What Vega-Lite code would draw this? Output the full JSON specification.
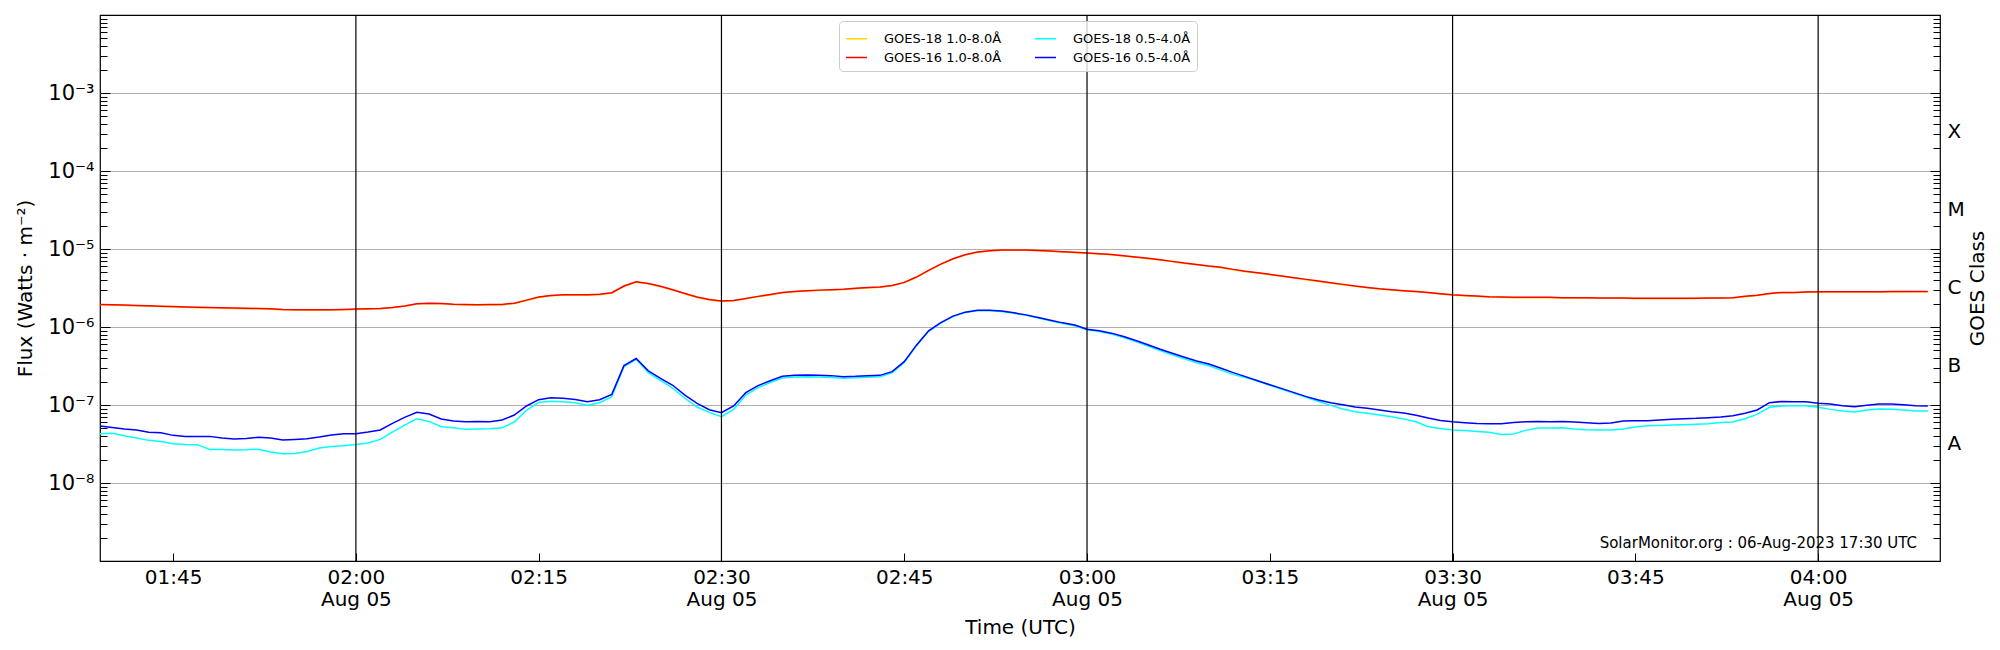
{
  "$schema": "https://vega.github.io/schema/vega-lite/v6.json",
  "width": 1840,
  "height": 546,
  "autosize": {"type": "none"},
  "padding": {"left": 100, "top": 15, "right": 60, "bottom": 89},
  "config": {
    "font": "DejaVu Sans",
    "view": {"stroke": "#000000", "strokeWidth": 1.2},
    "axis": {
      "domain": false,
      "labelColor": "#000000",
      "tickColor": "#000000",
      "tickWidth": 1,
      "titleColor": "#000000",
      "titleFontWeight": "normal",
      "labelFontSize": 20,
      "titleFontSize": 20,
      "labelFont": "DejaVu Sans",
      "titleFont": "DejaVu Sans"
    }
  },
  "layer": [
    {
      "data": {
        "format": {"parse": {"t": "utc:'%H:%M'"}},
        "values": [
          {"t":"01:39","s":"a","f":1.93e-6},{"t":"01:40","s":"a","f":1.91e-6},{"t":"01:41","s":"a","f":1.89e-6},{"t":"01:42","s":"a","f":1.87e-6},{"t":"01:43","s":"a","f":1.85e-6},{"t":"01:44","s":"a","f":1.83e-6},{"t":"01:45","s":"a","f":1.81e-6},{"t":"01:46","s":"a","f":1.79e-6},{"t":"01:47","s":"a","f":1.77e-6},{"t":"01:48","s":"a","f":1.76e-6},{"t":"01:49","s":"a","f":1.74e-6},{"t":"01:50","s":"a","f":1.73e-6},{"t":"01:51","s":"a","f":1.72e-6},{"t":"01:52","s":"a","f":1.71e-6},{"t":"01:53","s":"a","f":1.69e-6},{"t":"01:54","s":"a","f":1.66e-6},{"t":"01:55","s":"a","f":1.65e-6},{"t":"01:56","s":"a","f":1.64e-6},{"t":"01:57","s":"a","f":1.64e-6},{"t":"01:58","s":"a","f":1.65e-6},{"t":"01:59","s":"a","f":1.66e-6},
          {"t":"02:00","s":"a","f":1.68e-6},{"t":"02:01","s":"a","f":1.69e-6},{"t":"02:02","s":"a","f":1.71e-6},{"t":"02:03","s":"a","f":1.76e-6},{"t":"02:04","s":"a","f":1.84e-6},{"t":"02:05","s":"a","f":1.97e-6},{"t":"02:06","s":"a","f":2.00e-6},{"t":"02:07","s":"a","f":1.98e-6},{"t":"02:08","s":"a","f":1.94e-6},{"t":"02:09","s":"a","f":1.92e-6},{"t":"02:10","s":"a","f":1.91e-6},{"t":"02:11","s":"a","f":1.92e-6},{"t":"02:12","s":"a","f":1.93e-6},{"t":"02:13","s":"a","f":2.00e-6},{"t":"02:14","s":"a","f":2.19e-6},{"t":"02:15","s":"a","f":2.39e-6},{"t":"02:16","s":"a","f":2.51e-6},{"t":"02:17","s":"a","f":2.56e-6},{"t":"02:18","s":"a","f":2.57e-6},{"t":"02:19","s":"a","f":2.56e-6},{"t":"02:20","s":"a","f":2.60e-6},{"t":"02:21","s":"a","f":2.72e-6},{"t":"02:22","s":"a","f":3.31e-6},{"t":"02:23","s":"a","f":3.76e-6},{"t":"02:24","s":"a","f":3.58e-6},{"t":"02:25","s":"a","f":3.28e-6},{"t":"02:26","s":"a","f":2.98e-6},{"t":"02:27","s":"a","f":2.66e-6},{"t":"02:28","s":"a","f":2.39e-6},{"t":"02:29","s":"a","f":2.22e-6},
          {"t":"02:30","s":"a","f":2.13e-6},{"t":"02:31","s":"a","f":2.17e-6},{"t":"02:32","s":"a","f":2.30e-6},{"t":"02:33","s":"a","f":2.44e-6},{"t":"02:34","s":"a","f":2.58e-6},{"t":"02:35","s":"a","f":2.74e-6},{"t":"02:36","s":"a","f":2.83e-6},{"t":"02:37","s":"a","f":2.89e-6},{"t":"02:38","s":"a","f":2.94e-6},{"t":"02:39","s":"a","f":2.98e-6},{"t":"02:40","s":"a","f":3.02e-6},{"t":"02:41","s":"a","f":3.10e-6},{"t":"02:42","s":"a","f":3.17e-6},{"t":"02:43","s":"a","f":3.23e-6},{"t":"02:44","s":"a","f":3.38e-6},{"t":"02:45","s":"a","f":3.69e-6},{"t":"02:46","s":"a","f":4.33e-6},{"t":"02:47","s":"a","f":5.27e-6},{"t":"02:48","s":"a","f":6.35e-6},{"t":"02:49","s":"a","f":7.44e-6},{"t":"02:50","s":"a","f":8.37e-6},{"t":"02:51","s":"a","f":9.05e-6},{"t":"02:52","s":"a","f":9.43e-6},{"t":"02:53","s":"a","f":9.61e-6},{"t":"02:54","s":"a","f":9.63e-6},{"t":"02:55","s":"a","f":9.61e-6},{"t":"02:56","s":"a","f":9.51e-6},{"t":"02:57","s":"a","f":9.33e-6},{"t":"02:58","s":"a","f":9.15e-6},{"t":"02:59","s":"a","f":8.97e-6},
          {"t":"03:00","s":"a","f":8.79e-6},{"t":"03:01","s":"a","f":8.62e-6},{"t":"03:02","s":"a","f":8.44e-6},{"t":"03:03","s":"a","f":8.13e-6},{"t":"03:04","s":"a","f":7.81e-6},{"t":"03:05","s":"a","f":7.51e-6},{"t":"03:06","s":"a","f":7.22e-6},{"t":"03:07","s":"a","f":6.87e-6},{"t":"03:08","s":"a","f":6.54e-6},{"t":"03:09","s":"a","f":6.29e-6},{"t":"03:10","s":"a","f":5.99e-6},{"t":"03:11","s":"a","f":5.76e-6},{"t":"03:12","s":"a","f":5.43e-6},{"t":"03:13","s":"a","f":5.12e-6},{"t":"03:14","s":"a","f":4.92e-6},{"t":"03:15","s":"a","f":4.68e-6},{"t":"03:16","s":"a","f":4.46e-6},{"t":"03:17","s":"a","f":4.25e-6},{"t":"03:18","s":"a","f":4.04e-6},{"t":"03:19","s":"a","f":3.84e-6},{"t":"03:20","s":"a","f":3.66e-6},{"t":"03:21","s":"a","f":3.48e-6},{"t":"03:22","s":"a","f":3.32e-6},{"t":"03:23","s":"a","f":3.19e-6},{"t":"03:24","s":"a","f":3.06e-6},{"t":"03:25","s":"a","f":2.97e-6},{"t":"03:26","s":"a","f":2.89e-6},{"t":"03:27","s":"a","f":2.83e-6},{"t":"03:28","s":"a","f":2.74e-6},{"t":"03:29","s":"a","f":2.64e-6},
          {"t":"03:30","s":"a","f":2.56e-6},{"t":"03:31","s":"a","f":2.51e-6},{"t":"03:32","s":"a","f":2.46e-6},{"t":"03:33","s":"a","f":2.42e-6},{"t":"03:34","s":"a","f":2.40e-6},{"t":"03:35","s":"a","f":2.38e-6},{"t":"03:36","s":"a","f":2.38e-6},{"t":"03:37","s":"a","f":2.38e-6},{"t":"03:38","s":"a","f":2.38e-6},{"t":"03:39","s":"a","f":2.36e-6},{"t":"03:40","s":"a","f":2.36e-6},{"t":"03:41","s":"a","f":2.35e-6},{"t":"03:42","s":"a","f":2.34e-6},{"t":"03:43","s":"a","f":2.33e-6},{"t":"03:44","s":"a","f":2.33e-6},{"t":"03:45","s":"a","f":2.31e-6},{"t":"03:46","s":"a","f":2.31e-6},{"t":"03:47","s":"a","f":2.31e-6},{"t":"03:48","s":"a","f":2.31e-6},{"t":"03:49","s":"a","f":2.31e-6},{"t":"03:50","s":"a","f":2.32e-6},{"t":"03:51","s":"a","f":2.33e-6},{"t":"03:52","s":"a","f":2.34e-6},{"t":"03:53","s":"a","f":2.36e-6},{"t":"03:54","s":"a","f":2.44e-6},{"t":"03:55","s":"a","f":2.53e-6},{"t":"03:56","s":"a","f":2.66e-6},{"t":"03:57","s":"a","f":2.74e-6},{"t":"03:58","s":"a","f":2.74e-6},{"t":"03:59","s":"a","f":2.78e-6},
          {"t":"04:00","s":"a","f":2.80e-6},{"t":"04:01","s":"a","f":2.80e-6},{"t":"04:02","s":"a","f":2.80e-6},{"t":"04:03","s":"a","f":2.80e-6},{"t":"04:04","s":"a","f":2.81e-6},{"t":"04:05","s":"a","f":2.81e-6},{"t":"04:06","s":"a","f":2.82e-6},{"t":"04:07","s":"a","f":2.82e-6},{"t":"04:08","s":"a","f":2.83e-6},{"t":"04:09","s":"a","f":2.83e-6},

          {"t":"01:39","s":"b","f":1.95e-6},{"t":"01:40","s":"b","f":1.93e-6},{"t":"01:41","s":"b","f":1.91e-6},{"t":"01:42","s":"b","f":1.89e-6},{"t":"01:43","s":"b","f":1.87e-6},{"t":"01:44","s":"b","f":1.85e-6},{"t":"01:45","s":"b","f":1.83e-6},{"t":"01:46","s":"b","f":1.81e-6},{"t":"01:47","s":"b","f":1.79e-6},{"t":"01:48","s":"b","f":1.78e-6},{"t":"01:49","s":"b","f":1.76e-6},{"t":"01:50","s":"b","f":1.75e-6},{"t":"01:51","s":"b","f":1.74e-6},{"t":"01:52","s":"b","f":1.73e-6},{"t":"01:53","s":"b","f":1.71e-6},{"t":"01:54","s":"b","f":1.68e-6},{"t":"01:55","s":"b","f":1.67e-6},{"t":"01:56","s":"b","f":1.66e-6},{"t":"01:57","s":"b","f":1.66e-6},{"t":"01:58","s":"b","f":1.67e-6},{"t":"01:59","s":"b","f":1.68e-6},
          {"t":"02:00","s":"b","f":1.70e-6},{"t":"02:01","s":"b","f":1.71e-6},{"t":"02:02","s":"b","f":1.73e-6},{"t":"02:03","s":"b","f":1.78e-6},{"t":"02:04","s":"b","f":1.86e-6},{"t":"02:05","s":"b","f":1.99e-6},{"t":"02:06","s":"b","f":2.02e-6},{"t":"02:07","s":"b","f":2.00e-6},{"t":"02:08","s":"b","f":1.96e-6},{"t":"02:09","s":"b","f":1.94e-6},{"t":"02:10","s":"b","f":1.93e-6},{"t":"02:11","s":"b","f":1.94e-6},{"t":"02:12","s":"b","f":1.95e-6},{"t":"02:13","s":"b","f":2.02e-6},{"t":"02:14","s":"b","f":2.21e-6},{"t":"02:15","s":"b","f":2.42e-6},{"t":"02:16","s":"b","f":2.54e-6},{"t":"02:17","s":"b","f":2.59e-6},{"t":"02:18","s":"b","f":2.60e-6},{"t":"02:19","s":"b","f":2.59e-6},{"t":"02:20","s":"b","f":2.63e-6},{"t":"02:21","s":"b","f":2.75e-6},{"t":"02:22","s":"b","f":3.35e-6},{"t":"02:23","s":"b","f":3.80e-6},{"t":"02:24","s":"b","f":3.62e-6},{"t":"02:25","s":"b","f":3.32e-6},{"t":"02:26","s":"b","f":3.01e-6},{"t":"02:27","s":"b","f":2.69e-6},{"t":"02:28","s":"b","f":2.42e-6},{"t":"02:29","s":"b","f":2.25e-6},
          {"t":"02:30","s":"b","f":2.15e-6},{"t":"02:31","s":"b","f":2.19e-6},{"t":"02:32","s":"b","f":2.32e-6},{"t":"02:33","s":"b","f":2.47e-6},{"t":"02:34","s":"b","f":2.61e-6},{"t":"02:35","s":"b","f":2.77e-6},{"t":"02:36","s":"b","f":2.86e-6},{"t":"02:37","s":"b","f":2.92e-6},{"t":"02:38","s":"b","f":2.97e-6},{"t":"02:39","s":"b","f":3.01e-6},{"t":"02:40","s":"b","f":3.05e-6},{"t":"02:41","s":"b","f":3.13e-6},{"t":"02:42","s":"b","f":3.20e-6},{"t":"02:43","s":"b","f":3.26e-6},{"t":"02:44","s":"b","f":3.41e-6},{"t":"02:45","s":"b","f":3.73e-6},{"t":"02:46","s":"b","f":4.37e-6},{"t":"02:47","s":"b","f":5.32e-6},{"t":"02:48","s":"b","f":6.41e-6},{"t":"02:49","s":"b","f":7.51e-6},{"t":"02:50","s":"b","f":8.45e-6},{"t":"02:51","s":"b","f":9.14e-6},{"t":"02:52","s":"b","f":9.52e-6},{"t":"02:53","s":"b","f":9.70e-6},{"t":"02:54","s":"b","f":9.72e-6},{"t":"02:55","s":"b","f":9.70e-6},{"t":"02:56","s":"b","f":9.60e-6},{"t":"02:57","s":"b","f":9.42e-6},{"t":"02:58","s":"b","f":9.24e-6},{"t":"02:59","s":"b","f":9.06e-6},
          {"t":"03:00","s":"b","f":8.88e-6},{"t":"03:01","s":"b","f":8.71e-6},{"t":"03:02","s":"b","f":8.52e-6},{"t":"03:03","s":"b","f":8.21e-6},{"t":"03:04","s":"b","f":7.89e-6},{"t":"03:05","s":"b","f":7.59e-6},{"t":"03:06","s":"b","f":7.29e-6},{"t":"03:07","s":"b","f":6.94e-6},{"t":"03:08","s":"b","f":6.61e-6},{"t":"03:09","s":"b","f":6.35e-6},{"t":"03:10","s":"b","f":6.05e-6},{"t":"03:11","s":"b","f":5.82e-6},{"t":"03:12","s":"b","f":5.48e-6},{"t":"03:13","s":"b","f":5.17e-6},{"t":"03:14","s":"b","f":4.97e-6},{"t":"03:15","s":"b","f":4.73e-6},{"t":"03:16","s":"b","f":4.50e-6},{"t":"03:17","s":"b","f":4.29e-6},{"t":"03:18","s":"b","f":4.08e-6},{"t":"03:19","s":"b","f":3.88e-6},{"t":"03:20","s":"b","f":3.70e-6},{"t":"03:21","s":"b","f":3.52e-6},{"t":"03:22","s":"b","f":3.35e-6},{"t":"03:23","s":"b","f":3.22e-6},{"t":"03:24","s":"b","f":3.09e-6},{"t":"03:25","s":"b","f":3.00e-6},{"t":"03:26","s":"b","f":2.92e-6},{"t":"03:27","s":"b","f":2.86e-6},{"t":"03:28","s":"b","f":2.77e-6},{"t":"03:29","s":"b","f":2.67e-6},
          {"t":"03:30","s":"b","f":2.59e-6},{"t":"03:31","s":"b","f":2.54e-6},{"t":"03:32","s":"b","f":2.49e-6},{"t":"03:33","s":"b","f":2.44e-6},{"t":"03:34","s":"b","f":2.42e-6},{"t":"03:35","s":"b","f":2.40e-6},{"t":"03:36","s":"b","f":2.40e-6},{"t":"03:37","s":"b","f":2.40e-6},{"t":"03:38","s":"b","f":2.40e-6},{"t":"03:39","s":"b","f":2.38e-6},{"t":"03:40","s":"b","f":2.38e-6},{"t":"03:41","s":"b","f":2.37e-6},{"t":"03:42","s":"b","f":2.36e-6},{"t":"03:43","s":"b","f":2.35e-6},{"t":"03:44","s":"b","f":2.35e-6},{"t":"03:45","s":"b","f":2.33e-6},{"t":"03:46","s":"b","f":2.33e-6},{"t":"03:47","s":"b","f":2.33e-6},{"t":"03:48","s":"b","f":2.33e-6},{"t":"03:49","s":"b","f":2.33e-6},{"t":"03:50","s":"b","f":2.34e-6},{"t":"03:51","s":"b","f":2.35e-6},{"t":"03:52","s":"b","f":2.36e-6},{"t":"03:53","s":"b","f":2.38e-6},{"t":"03:54","s":"b","f":2.47e-6},{"t":"03:55","s":"b","f":2.56e-6},{"t":"03:56","s":"b","f":2.69e-6},{"t":"03:57","s":"b","f":2.77e-6},{"t":"03:58","s":"b","f":2.77e-6},{"t":"03:59","s":"b","f":2.81e-6},
          {"t":"04:00","s":"b","f":2.83e-6},{"t":"04:01","s":"b","f":2.83e-6},{"t":"04:02","s":"b","f":2.83e-6},{"t":"04:03","s":"b","f":2.83e-6},{"t":"04:04","s":"b","f":2.84e-6},{"t":"04:05","s":"b","f":2.84e-6},{"t":"04:06","s":"b","f":2.85e-6},{"t":"04:07","s":"b","f":2.85e-6},{"t":"04:08","s":"b","f":2.86e-6},{"t":"04:09","s":"b","f":2.86e-6},

          {"t":"01:39","s":"c","f":4.29e-8},{"t":"01:40","s":"c","f":4.33e-8},{"t":"01:41","s":"c","f":4.04e-8},{"t":"01:42","s":"c","f":3.77e-8},{"t":"01:43","s":"c","f":3.52e-8},{"t":"01:44","s":"c","f":3.41e-8},{"t":"01:45","s":"c","f":3.18e-8},{"t":"01:46","s":"c","f":3.12e-8},{"t":"01:47","s":"c","f":3.10e-8},{"t":"01:48","s":"c","f":2.69e-8},{"t":"01:49","s":"c","f":2.69e-8},{"t":"01:50","s":"c","f":2.64e-8},{"t":"01:51","s":"c","f":2.66e-8},{"t":"01:52","s":"c","f":2.71e-8},{"t":"01:53","s":"c","f":2.49e-8},{"t":"01:54","s":"c","f":2.37e-8},{"t":"01:55","s":"c","f":2.39e-8},{"t":"01:56","s":"c","f":2.54e-8},{"t":"01:57","s":"c","f":2.81e-8},{"t":"01:58","s":"c","f":2.94e-8},{"t":"01:59","s":"c","f":3.01e-8},
          {"t":"02:00","s":"c","f":3.12e-8},{"t":"02:01","s":"c","f":3.25e-8},{"t":"02:02","s":"c","f":3.62e-8},{"t":"02:03","s":"c","f":4.50e-8},{"t":"02:04","s":"c","f":5.53e-8},{"t":"02:05","s":"c","f":6.67e-8},{"t":"02:06","s":"c","f":6.16e-8},{"t":"02:07","s":"c","f":5.27e-8},{"t":"02:08","s":"c","f":5.12e-8},{"t":"02:09","s":"c","f":4.87e-8},{"t":"02:10","s":"c","f":4.92e-8},{"t":"02:11","s":"c","f":4.97e-8},{"t":"02:12","s":"c","f":5.10e-8},{"t":"02:13","s":"c","f":6.05e-8},{"t":"02:14","s":"c","f":8.55e-8},{"t":"02:15","s":"c","f":1.08e-7},{"t":"02:16","s":"c","f":1.12e-7},{"t":"02:17","s":"c","f":1.10e-7},{"t":"02:18","s":"c","f":1.07e-7},{"t":"02:19","s":"c","f":9.90e-8},{"t":"02:20","s":"c","f":1.07e-7},{"t":"02:21","s":"c","f":1.28e-7},{"t":"02:22","s":"c","f":3.11e-7},{"t":"02:23","s":"c","f":3.86e-7},{"t":"02:24","s":"c","f":2.60e-7},{"t":"02:25","s":"c","f":2.07e-7},{"t":"02:26","s":"c","f":1.64e-7},{"t":"02:27","s":"c","f":1.22e-7},{"t":"02:28","s":"c","f":9.42e-8},{"t":"02:29","s":"c","f":8.05e-8},
          {"t":"02:30","s":"c","f":7.08e-8},{"t":"02:31","s":"c","f":8.79e-8},{"t":"02:32","s":"c","f":1.34e-7},{"t":"02:33","s":"c","f":1.67e-7},{"t":"02:34","s":"c","f":1.94e-7},{"t":"02:35","s":"c","f":2.22e-7},{"t":"02:36","s":"c","f":2.29e-7},{"t":"02:37","s":"c","f":2.31e-7},{"t":"02:38","s":"c","f":2.29e-7},{"t":"02:39","s":"c","f":2.25e-7},{"t":"02:40","s":"c","f":2.20e-7},{"t":"02:41","s":"c","f":2.24e-7},{"t":"02:42","s":"c","f":2.27e-7},{"t":"02:43","s":"c","f":2.30e-7},{"t":"02:44","s":"c","f":2.58e-7},{"t":"02:45","s":"c","f":3.52e-7},{"t":"02:46","s":"c","f":5.74e-7},{"t":"02:47","s":"c","f":8.80e-7},{"t":"02:48","s":"c","f":1.12e-6},{"t":"02:49","s":"c","f":1.36e-6},{"t":"02:50","s":"c","f":1.53e-6},{"t":"02:51","s":"c","f":1.62e-6},{"t":"02:52","s":"c","f":1.62e-6},{"t":"02:53","s":"c","f":1.58e-6},{"t":"02:54","s":"c","f":1.50e-6},{"t":"02:55","s":"c","f":1.41e-6},{"t":"02:56","s":"c","f":1.30e-6},{"t":"02:57","s":"c","f":1.20e-6},{"t":"02:58","s":"c","f":1.11e-6},{"t":"02:59","s":"c","f":1.04e-6},
          {"t":"03:00","s":"c","f":9.20e-7},{"t":"03:01","s":"c","f":8.75e-7},{"t":"03:02","s":"c","f":8.15e-7},{"t":"03:03","s":"c","f":7.35e-7},{"t":"03:04","s":"c","f":6.50e-7},{"t":"03:05","s":"c","f":5.70e-7},{"t":"03:06","s":"c","f":4.98e-7},{"t":"03:07","s":"c","f":4.40e-7},{"t":"03:08","s":"c","f":3.90e-7},{"t":"03:09","s":"c","f":3.48e-7},{"t":"03:10","s":"c","f":3.18e-7},{"t":"03:11","s":"c","f":2.80e-7},{"t":"03:12","s":"c","f":2.45e-7},{"t":"03:13","s":"c","f":2.25e-7},{"t":"03:14","s":"c","f":2.03e-7},{"t":"03:15","s":"c","f":1.79e-7},{"t":"03:16","s":"c","f":1.59e-7},{"t":"03:17","s":"c","f":1.41e-7},{"t":"03:18","s":"c","f":1.26e-7},{"t":"03:19","s":"c","f":1.11e-7},{"t":"03:20","s":"c","f":9.90e-8},{"t":"03:21","s":"c","f":8.89e-8},{"t":"03:22","s":"c","f":8.21e-8},{"t":"03:23","s":"c","f":7.82e-8},{"t":"03:24","s":"c","f":7.44e-8},{"t":"03:25","s":"c","f":7.08e-8},{"t":"03:26","s":"c","f":6.61e-8},{"t":"03:27","s":"c","f":6.10e-8},{"t":"03:28","s":"c","f":5.27e-8},{"t":"03:29","s":"c","f":5.01e-8},
          {"t":"03:30","s":"c","f":4.78e-8},{"t":"03:31","s":"c","f":4.70e-8},{"t":"03:32","s":"c","f":4.59e-8},{"t":"03:33","s":"c","f":4.46e-8},{"t":"03:34","s":"c","f":4.20e-8},{"t":"03:35","s":"c","f":4.24e-8},{"t":"03:36","s":"c","f":4.73e-8},{"t":"03:37","s":"c","f":5.06e-8},{"t":"03:38","s":"c","f":5.06e-8},{"t":"03:39","s":"c","f":5.12e-8},{"t":"03:40","s":"c","f":4.92e-8},{"t":"03:41","s":"c","f":4.83e-8},{"t":"03:42","s":"c","f":4.78e-8},{"t":"03:43","s":"c","f":4.78e-8},{"t":"03:44","s":"c","f":4.92e-8},{"t":"03:45","s":"c","f":5.21e-8},{"t":"03:46","s":"c","f":5.42e-8},{"t":"03:47","s":"c","f":5.47e-8},{"t":"03:48","s":"c","f":5.53e-8},{"t":"03:49","s":"c","f":5.59e-8},{"t":"03:50","s":"c","f":5.65e-8},{"t":"03:51","s":"c","f":5.75e-8},{"t":"03:52","s":"c","f":5.98e-8},{"t":"03:53","s":"c","f":6.04e-8},{"t":"03:54","s":"c","f":6.67e-8},{"t":"03:55","s":"c","f":7.59e-8},{"t":"03:56","s":"c","f":9.33e-8},{"t":"03:57","s":"c","f":9.70e-8},{"t":"03:58","s":"c","f":9.80e-8},{"t":"03:59","s":"c","f":9.80e-8},
          {"t":"04:00","s":"c","f":9.33e-8},{"t":"04:01","s":"c","f":8.79e-8},{"t":"04:02","s":"c","f":8.38e-8},{"t":"04:03","s":"c","f":8.13e-8},{"t":"04:04","s":"c","f":8.63e-8},{"t":"04:05","s":"c","f":8.89e-8},{"t":"04:06","s":"c","f":8.79e-8},{"t":"04:07","s":"c","f":8.63e-8},{"t":"04:08","s":"c","f":8.38e-8},{"t":"04:09","s":"c","f":8.38e-8},

          {"t":"01:39","s":"d","f":5.37e-8},{"t":"01:40","s":"d","f":5.16e-8},{"t":"01:41","s":"d","f":4.92e-8},{"t":"01:42","s":"d","f":4.78e-8},{"t":"01:43","s":"d","f":4.46e-8},{"t":"01:44","s":"d","f":4.41e-8},{"t":"01:45","s":"d","f":4.08e-8},{"t":"01:46","s":"d","f":3.96e-8},{"t":"01:47","s":"d","f":3.96e-8},{"t":"01:48","s":"d","f":3.96e-8},{"t":"01:49","s":"d","f":3.77e-8},{"t":"01:50","s":"d","f":3.66e-8},{"t":"01:51","s":"d","f":3.73e-8},{"t":"01:52","s":"d","f":3.85e-8},{"t":"01:53","s":"d","f":3.77e-8},{"t":"01:54","s":"d","f":3.55e-8},{"t":"01:55","s":"d","f":3.62e-8},{"t":"01:56","s":"d","f":3.70e-8},{"t":"01:57","s":"d","f":3.88e-8},{"t":"01:58","s":"d","f":4.12e-8},{"t":"01:59","s":"d","f":4.29e-8},
          {"t":"02:00","s":"d","f":4.29e-8},{"t":"02:01","s":"d","f":4.50e-8},{"t":"02:02","s":"d","f":4.78e-8},{"t":"02:03","s":"d","f":5.81e-8},{"t":"02:04","s":"d","f":6.95e-8},{"t":"02:05","s":"d","f":8.05e-8},{"t":"02:06","s":"d","f":7.66e-8},{"t":"02:07","s":"d","f":6.61e-8},{"t":"02:08","s":"d","f":6.22e-8},{"t":"02:09","s":"d","f":6.10e-8},{"t":"02:10","s":"d","f":6.16e-8},{"t":"02:11","s":"d","f":6.10e-8},{"t":"02:12","s":"d","f":6.41e-8},{"t":"02:13","s":"d","f":7.44e-8},{"t":"02:14","s":"d","f":9.71e-8},{"t":"02:15","s":"d","f":1.17e-7},{"t":"02:16","s":"d","f":1.24e-7},{"t":"02:17","s":"d","f":1.22e-7},{"t":"02:18","s":"d","f":1.18e-7},{"t":"02:19","s":"d","f":1.10e-7},{"t":"02:20","s":"d","f":1.17e-7},{"t":"02:21","s":"d","f":1.37e-7},{"t":"02:22","s":"d","f":3.20e-7},{"t":"02:23","s":"d","f":3.94e-7},{"t":"02:24","s":"d","f":2.74e-7},{"t":"02:25","s":"d","f":2.20e-7},{"t":"02:26","s":"d","f":1.79e-7},{"t":"02:27","s":"d","f":1.34e-7},{"t":"02:28","s":"d","f":1.05e-7},{"t":"02:29","s":"d","f":8.71e-8},
          {"t":"02:30","s":"d","f":7.96e-8},{"t":"02:31","s":"d","f":9.71e-8},{"t":"02:32","s":"d","f":1.44e-7},{"t":"02:33","s":"d","f":1.77e-7},{"t":"02:34","s":"d","f":2.05e-7},{"t":"02:35","s":"d","f":2.33e-7},{"t":"02:36","s":"d","f":2.40e-7},{"t":"02:37","s":"d","f":2.42e-7},{"t":"02:38","s":"d","f":2.40e-7},{"t":"02:39","s":"d","f":2.38e-7},{"t":"02:40","s":"d","f":2.31e-7},{"t":"02:41","s":"d","f":2.33e-7},{"t":"02:42","s":"d","f":2.37e-7},{"t":"02:43","s":"d","f":2.40e-7},{"t":"02:44","s":"d","f":2.68e-7},{"t":"02:45","s":"d","f":3.60e-7},{"t":"02:46","s":"d","f":5.85e-7},{"t":"02:47","s":"d","f":8.93e-7},{"t":"02:48","s":"d","f":1.14e-6},{"t":"02:49","s":"d","f":1.38e-6},{"t":"02:50","s":"d","f":1.55e-6},{"t":"02:51","s":"d","f":1.64e-6},{"t":"02:52","s":"d","f":1.64e-6},{"t":"02:53","s":"d","f":1.60e-6},{"t":"02:54","s":"d","f":1.52e-6},{"t":"02:55","s":"d","f":1.43e-6},{"t":"02:56","s":"d","f":1.32e-6},{"t":"02:57","s":"d","f":1.22e-6},{"t":"02:58","s":"d","f":1.13e-6},{"t":"02:59","s":"d","f":1.06e-6},
          {"t":"03:00","s":"d","f":9.38e-7},{"t":"03:01","s":"d","f":8.93e-7},{"t":"03:02","s":"d","f":8.34e-7},{"t":"03:03","s":"d","f":7.55e-7},{"t":"03:04","s":"d","f":6.71e-7},{"t":"03:05","s":"d","f":5.91e-7},{"t":"03:06","s":"d","f":5.19e-7},{"t":"03:07","s":"d","f":4.61e-7},{"t":"03:08","s":"d","f":4.10e-7},{"t":"03:09","s":"d","f":3.67e-7},{"t":"03:10","s":"d","f":3.36e-7},{"t":"03:11","s":"d","f":2.96e-7},{"t":"03:12","s":"d","f":2.60e-7},{"t":"03:13","s":"d","f":2.31e-7},{"t":"03:14","s":"d","f":2.05e-7},{"t":"03:15","s":"d","f":1.82e-7},{"t":"03:16","s":"d","f":1.62e-7},{"t":"03:17","s":"d","f":1.44e-7},{"t":"03:18","s":"d","f":1.28e-7},{"t":"03:19","s":"d","f":1.16e-7},{"t":"03:20","s":"d","f":1.07e-7},{"t":"03:21","s":"d","f":1.01e-7},{"t":"03:22","s":"d","f":9.42e-8},{"t":"03:23","s":"d","f":9.06e-8},{"t":"03:24","s":"d","f":8.63e-8},{"t":"03:25","s":"d","f":8.21e-8},{"t":"03:26","s":"d","f":7.89e-8},{"t":"03:27","s":"d","f":7.40e-8},{"t":"03:28","s":"d","f":6.80e-8},{"t":"03:29","s":"d","f":6.35e-8},
          {"t":"03:30","s":"d","f":6.10e-8},{"t":"03:31","s":"d","f":5.93e-8},{"t":"03:32","s":"d","f":5.81e-8},{"t":"03:33","s":"d","f":5.75e-8},{"t":"03:34","s":"d","f":5.75e-8},{"t":"03:35","s":"d","f":5.98e-8},{"t":"03:36","s":"d","f":6.10e-8},{"t":"03:37","s":"d","f":6.16e-8},{"t":"03:38","s":"d","f":6.10e-8},{"t":"03:39","s":"d","f":6.16e-8},{"t":"03:40","s":"d","f":6.04e-8},{"t":"03:41","s":"d","f":5.93e-8},{"t":"03:42","s":"d","f":5.81e-8},{"t":"03:43","s":"d","f":5.87e-8},{"t":"03:44","s":"d","f":6.22e-8},{"t":"03:45","s":"d","f":6.29e-8},{"t":"03:46","s":"d","f":6.29e-8},{"t":"03:47","s":"d","f":6.41e-8},{"t":"03:48","s":"d","f":6.55e-8},{"t":"03:49","s":"d","f":6.67e-8},{"t":"03:50","s":"d","f":6.74e-8},{"t":"03:51","s":"d","f":6.88e-8},{"t":"03:52","s":"d","f":7.02e-8},{"t":"03:53","s":"d","f":7.30e-8},{"t":"03:54","s":"d","f":7.82e-8},{"t":"03:55","s":"d","f":8.63e-8},{"t":"03:56","s":"d","f":1.07e-7},{"t":"03:57","s":"d","f":1.11e-7},{"t":"03:58","s":"d","f":1.10e-7},{"t":"03:59","s":"d","f":1.10e-7},
          {"t":"04:00","s":"d","f":1.05e-7},{"t":"04:01","s":"d","f":1.03e-7},{"t":"04:02","s":"d","f":9.80e-8},{"t":"04:03","s":"d","f":9.52e-8},{"t":"04:04","s":"d","f":9.90e-8},{"t":"04:05","s":"d","f":1.03e-7},{"t":"04:06","s":"d","f":1.03e-7},{"t":"04:07","s":"d","f":1.01e-7},{"t":"04:08","s":"d","f":9.80e-8},{"t":"04:09","s":"d","f":9.70e-8}
        ]
      },
      "mark": {"type": "line", "strokeWidth": 1.5},
      "encoding": {
        "x": {
          "field": "t",
          "type": "temporal",
          "scale": {
            "type": "utc",
            "nice": false,
            "domain": [
              {"year": 1900, "month": 1, "date": 1, "hours": 1, "minutes": 39, "utc": true},
              {"year": 1900, "month": 1, "date": 1, "hours": 4, "minutes": 10, "utc": true}
            ]
          },
          "axis": {
            "orient": "bottom",
            "values": [
              {"year": 1900, "month": 1, "date": 1, "hours": 1, "minutes": 45, "utc": true},
              {"year": 1900, "month": 1, "date": 1, "hours": 2, "minutes": 0, "utc": true},
              {"year": 1900, "month": 1, "date": 1, "hours": 2, "minutes": 15, "utc": true},
              {"year": 1900, "month": 1, "date": 1, "hours": 2, "minutes": 30, "utc": true},
              {"year": 1900, "month": 1, "date": 1, "hours": 2, "minutes": 45, "utc": true},
              {"year": 1900, "month": 1, "date": 1, "hours": 3, "minutes": 0, "utc": true},
              {"year": 1900, "month": 1, "date": 1, "hours": 3, "minutes": 15, "utc": true},
              {"year": 1900, "month": 1, "date": 1, "hours": 3, "minutes": 30, "utc": true},
              {"year": 1900, "month": 1, "date": 1, "hours": 3, "minutes": 45, "utc": true},
              {"year": 1900, "month": 1, "date": 1, "hours": 4, "minutes": 0, "utc": true}
            ],
            "labelExpr": "utcminutes(datum.value) % 30 == 0 ? [utcFormat(datum.value, '%H:%M'), 'Aug 05'] : utcFormat(datum.value, '%H:%M')",
            "labelFlush": false,
            "labelOverlap": false,
            "labelLineHeight": 22,
            "tickSize": -8,
            "labelPadding": 14,
            "grid": false,
            "title": "Time (UTC)",
            "titlePadding": 8
          }
        },
        "y": {
          "field": "f",
          "type": "quantitative",
          "scale": {"type": "log", "domain": [1e-9, 1e-2], "nice": false},
          "axis": {
            "orient": "left",
            "values": [1e-8, 1e-7, 1e-6, 1e-5, 1e-4, 1e-3],
            "labelExpr": "'10⁻' + ['⁰','¹','²','³','⁴','⁵','⁶','⁷','⁸','⁹'][round(-log(datum.value) / LN10)]",
            "labelFontSize": 21,
            "tickSize": -10,
            "labelPadding": 16,
            "grid": true,
            "gridColor": "#b0b0b0",
            "gridWidth": 1,
            "title": "Flux (Watts · m⁻²)",
            "titlePadding": 12
          }
        },
        "color": {
          "field": "s",
          "type": "nominal",
          "scale": {"domain": ["a", "b", "c", "d"], "range": ["#FFD700", "#FF0000", "#00FFFF", "#0000FF"]},
          "legend": {
            "orient": "none",
            "legendX": 739,
            "legendY": 6,
            "columns": 2,
            "title": null,
            "symbolType": "stroke",
            "symbolSize": 441,
            "symbolStrokeWidth": 1.5,
            "labelFontSize": 13,
            "labelFont": "DejaVu Sans",
            "labelOffset": 16,
            "columnPadding": 30,
            "rowPadding": 0,
            "padding": 6,
            "fillColor": "rgba(255,255,255,0.8)",
            "strokeColor": "#cccccc",
            "cornerRadius": 4,
            "labelExpr": "datum.label == 'a' ? 'GOES-18 1.0-8.0Å' : datum.label == 'b' ? 'GOES-16 1.0-8.0Å' : datum.label == 'c' ? 'GOES-18 0.5-4.0Å' : 'GOES-16 0.5-4.0Å'"
          }
        }
      }
    },
    {
      "data": {"values": [{"t": "02:00"}, {"t": "02:30"}, {"t": "03:00"}, {"t": "03:30"}, {"t": "04:00"}], "format": {"parse": {"t": "utc:'%H:%M'"}}},
      "mark": {"type": "rule", "color": "#000000", "strokeWidth": 1.2},
      "encoding": {
        "x": {"field": "t", "type": "temporal", "axis": null}
      }
    },
    {
      "data": {"values": [{}]},
      "mark": {"type": "point", "opacity": 0},
      "encoding": {
        "y": {
          "datum": 1e-5,
          "type": "quantitative",
          "axis": {
            "orient": "left",
            "values": [2e-9,3e-9,4e-9,5e-9,6e-9,7e-9,8e-9,9e-9,2e-8,3e-8,4e-8,5e-8,6e-8,7e-8,8e-8,9e-8,2e-7,3e-7,4e-7,5e-7,6e-7,7e-7,8e-7,9e-7,2e-6,3e-6,4e-6,5e-6,6e-6,7e-6,8e-6,9e-6,2e-5,3e-5,4e-5,5e-5,6e-5,7e-5,8e-5,9e-5,2e-4,3e-4,4e-4,5e-4,6e-4,7e-4,8e-4,9e-4,2e-3,3e-3,4e-3,5e-3,6e-3,7e-3,8e-3,9e-3],
            "labels": false,
            "grid": false,
            "tickSize": -7,
            "title": null
          }
        }
      }
    },
    {
      "data": {"values": [{}]},
      "mark": {"type": "point", "opacity": 0},
      "encoding": {
        "y": {
          "datum": 1e-5,
          "type": "quantitative",
          "axis": {
            "orient": "right",
            "values": [1e-8, 1e-7, 1e-6, 1e-5, 1e-4, 1e-3],
            "labels": false,
            "grid": false,
            "tickSize": -10,
            "title": null
          }
        }
      }
    },
    {
      "data": {"values": [{}]},
      "mark": {"type": "point", "opacity": 0},
      "encoding": {
        "y": {
          "datum": 1e-5,
          "type": "quantitative",
          "axis": {
            "orient": "right",
            "values": [2e-9,3e-9,4e-9,5e-9,6e-9,7e-9,8e-9,9e-9,2e-8,3e-8,4e-8,5e-8,6e-8,7e-8,8e-8,9e-8,2e-7,3e-7,4e-7,5e-7,6e-7,7e-7,8e-7,9e-7,2e-6,3e-6,4e-6,5e-6,6e-6,7e-6,8e-6,9e-6,2e-5,3e-5,4e-5,5e-5,6e-5,7e-5,8e-5,9e-5,2e-4,3e-4,4e-4,5e-4,6e-4,7e-4,8e-4,9e-4,2e-3,3e-3,4e-3,5e-3,6e-3,7e-3,8e-3,9e-3],
            "labels": false,
            "grid": false,
            "tickSize": -7,
            "title": null
          }
        }
      }
    },
    {
      "data": {"values": [{}]},
      "mark": {"type": "point", "opacity": 0},
      "encoding": {
        "y": {
          "datum": 1e-5,
          "type": "quantitative",
          "axis": {
            "orient": "right",
            "values": [3.1623e-4, 3.1623e-5, 3.1623e-6, 3.1623e-7, 3.1623e-8],
            "labelExpr": "datum.value > 1e-4 ? 'X' : datum.value > 1e-5 ? 'M' : datum.value > 1e-6 ? 'C' : datum.value > 1e-7 ? 'B' : 'A'",
            "ticks": false,
            "labelPadding": 7,
            "grid": false,
            "title": "GOES Class",
            "titleAngle": 270,
            "titleBaseline": "top",
            "titlePadding": 3
          }
        }
      }
    },
    {
      "data": {"values": [{}]},
      "mark": {"type": "text", "text": "SolarMonitor.org : 06-Aug-2023 17:30 UTC", "align": "right", "baseline": "middle", "fontSize": 15, "font": "DejaVu Sans", "color": "#000000"},
      "encoding": {
        "x": {"datum": {"year": 1900, "month": 1, "date": 1, "hours": 4, "minutes": 8, "seconds": 7, "utc": true}, "type": "temporal", "axis": null},
        "y": {"datum": 1.7e-9, "type": "quantitative", "axis": null}
      }
    }
  ],
  "resolve": {"axis": {"x": "independent", "y": "independent"}}
}
